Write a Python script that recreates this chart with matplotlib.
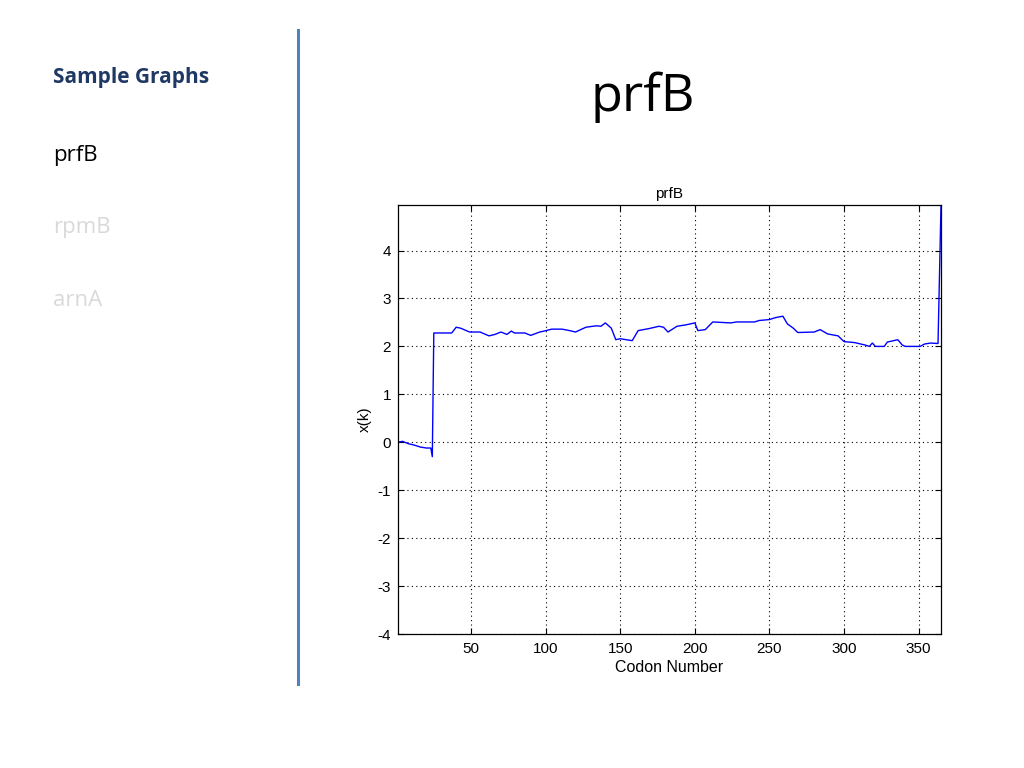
import matplotlib.pyplot as plt
from matplotlib.lines import Line2D

plt.rcParams["axes.unicode_minus"] = False

# Data
codon = [1, 4, 8, 12, 16, 20, 23, 24, 25, 37, 40, 43, 49, 56, 62, 66, 70, 74, 77, 79,
         83, 86, 90, 96, 99, 104, 111, 116, 120, 127, 134, 137, 140, 144, 147, 150,
         158, 162, 169, 176, 179, 182, 188, 194, 200, 202, 207, 212, 224, 228, 240,
         243, 250, 254, 259, 262, 266, 269, 280, 284, 289, 296, 300, 307, 314, 317,
         319, 321, 327, 329, 336, 339, 341, 351, 354, 358, 363, 364, 365]
xk = [0.0, 0.02, -0.03, -0.06, -0.1, -0.12, -0.12, -0.3, 2.28, 2.28, 2.4, 2.38, 2.3,
      2.3, 2.22, 2.25, 2.3, 2.25, 2.32, 2.28, 2.28, 2.28, 2.23, 2.3, 2.32, 2.36, 2.36,
      2.33, 2.3, 2.4, 2.43, 2.42, 2.49, 2.38, 2.14, 2.16, 2.12, 2.33, 2.37, 2.42, 2.40,
      2.3, 2.42, 2.45, 2.49, 2.33, 2.35, 2.51, 2.49, 2.51, 2.51, 2.54, 2.56, 2.6, 2.63,
      2.47, 2.38, 2.29, 2.3, 2.35, 2.26, 2.22, 2.1, 2.08, 2.03, 2.0, 2.07, 2.0, 2.0,
      2.09, 2.14, 2.03, 2.0, 2.0, 2.05, 2.07, 2.06, 3.5, 4.95]

x_ticks = [50, 100, 150, 200, 250, 300, 350]
y_ticks = [-4, -3, -2, -1, 0, 1, 2, 3, 4]

nav_items = ["prfB", "rpmB", "arnA"]
nav_colors = ["black", "#d9d9d9", "#d9d9d9"]

fig = plt.figure(figsize=(10.24, 7.68), dpi=100)
fig.patch.set_facecolor("white")

# slide side bar
fig.text(53 / 1024, 1 - 78 / 768, "Sample Graphs", fontsize=15, fontweight="bold",
         color="#1f3864", family="Open Sans", va="center", ha="left")
for i, (name, c) in enumerate(zip(nav_items, nav_colors)):
    fig.text(53 / 1024, 1 - (155 + 73 * i) / 768, name, fontsize=16, color=c,
             family="Open Sans", va="center", ha="left")
fig.add_artist(Line2D([298 / 1024, 298 / 1024], [1 - 30 / 768, 1 - 684 / 768],
                      color="#4f81bd", lw=2.2, transform=fig.transFigure))

# slide title
fig.text(643 / 1024, 1 - 97 / 768, "prfB", fontsize=37.5, color="black",
         family="Open Sans", va="center", ha="center")

# MATLAB-style axes
ax = fig.add_axes([398 / 1024, 1 - 634 / 768, 543 / 1024, 429 / 768])
ax.plot(codon, xk, color="#0000ff", lw=1.0)
ax.set_xlim(1, 365)
ax.set_ylim(-4, 4.95)
ax.set_xticks(x_ticks)
ax.set_yticks(y_ticks)
ax.grid(True, color="black", linestyle=(0, (1, 3)), linewidth=0.8)
ax.tick_params(direction="in", top=True, right=True, length=4, labelsize=11,
               width=0.8)
ax.tick_params(axis="x", pad=6)
ax.tick_params(axis="y", pad=5)
for s in ax.spines.values():
    s.set_linewidth(0.9)
for lab in ax.get_xticklabels() + ax.get_yticklabels():
    lab.set_family("Liberation Sans")
ax.set_title("prfB", fontsize=11, family="Liberation Sans", pad=5)
ax.set_xlabel("Codon Number", fontsize=11.5, family="Liberation Sans", labelpad=3)
ax.set_ylabel("x(k)", fontsize=11, family="Liberation Sans", labelpad=4)

plt.savefig("out.png", dpi=100)
plt.close()
